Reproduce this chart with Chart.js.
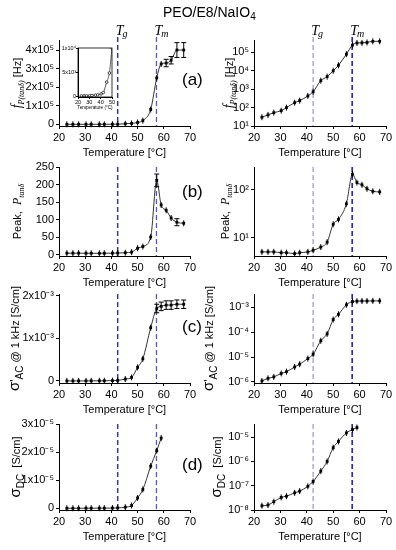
<!DOCTYPE html>
<html>
<head>
<meta charset="utf-8">
<script src="https://cdn.jsdelivr.net/npm/chart.js@4.4.0/dist/chart.umd.min.js"></script>
<style>
  body { margin: 0; background: #fff; font-family: 'Liberation Sans', Arial, sans-serif; }
  #page { position: relative; width: 396px; height: 550px; overflow: hidden; }
  canvas { position: absolute; left: 0; top: 0; }
  #title { position: absolute; left: 163px; top: 4px; font-size: 14px; line-height: 16px; white-space: nowrap; }
  #title sub { font-size: 10px; vertical-align: -3px; line-height: 0; }
  .tag { position: absolute; left: 182px; font-size: 17px; line-height: 20px; }
</style>
</head>
<body>
<div id="page">
  <canvas id="ca" width="396" height="550"></canvas>
  <canvas id="caR" width="396" height="550"></canvas>
  <canvas id="cb" width="396" height="550"></canvas>
  <canvas id="cbR" width="396" height="550"></canvas>
  <canvas id="cc" width="396" height="550"></canvas>
  <canvas id="ccR" width="396" height="550"></canvas>
  <canvas id="cd" width="396" height="550"></canvas>
  <canvas id="cdR" width="396" height="550"></canvas>
  <canvas id="cInset" width="396" height="550"></canvas>
  <div id="title">PEO/E8/NaIO<sub>4</sub></div>
  <div class="tag" style="top:70px">(a)</div>
  <div class="tag" style="top:182px">(b)</div>
  <div class="tag" style="top:317px">(c)</div>
  <div class="tag" style="top:455px">(d)</div>
</div>
<script>
// temperatures of the measurements [°C]
const temps = [23, 25.3, 27.5, 30.3, 32.3, 35.4, 37.3, 40.4, 42.4, 45.3, 47.7, 50, 52, 55, 57.3, 59, 60.9, 62.8, 65, 67.6];

// (a) peak frequency of tan delta [Hz]
const fPeak = [30, 40, 53, 68, 100, 185, 240, 430, 730, 2900, 4800, 10000, 20000, 80000, 250000, 325000, 330000, 345000, 400000, 400000];
const fPeakErr = [3, 4, 5, 6, 10, 15, 20, 30, 50, 200, 300, 800, 1500, 6000, 15000, 15000, 20000, 20000, 40000, 40000];

// (b) tan delta peak height
const tanPeak = [5, 5, 5, 4.8, 4.8, 4.6, 4.8, 5, 5.4, 6.3, 8, 19, 24, 51, 212, 142, 127, 105, 93, 90];
const tanPeakErr = [0.4, 0.4, 0.4, 0.4, 0.4, 0.4, 0.4, 0.4, 0.5, 0.5, 0.6, 1.5, 2, 5, 18, 8, 6, 5, 10, 6];

// (c) AC conductivity at 1 kHz [S/cm]
const sigmaAC = [1.1e-6, 1.4e-6, 1.6e-6, 2.2e-6, 2.6e-6, 4.0e-6, 5.2e-6, 8.7e-6, 1.3e-5, 4.5e-5, 8.5e-5, 3.2e-4, 5.2e-4, 1.25e-3, 1.7e-3, 1.75e-3, 1.78e-3, 1.78e-3, 1.8e-3, 1.8e-3];
const sigmaACErr = [1e-7, 1e-7, 1.5e-7, 2e-7, 2e-7, 3e-7, 4e-7, 7e-7, 1e-6, 4e-6, 7e-6, 3e-5, 4e-5, 6e-5, 1e-4, 1e-4, 1e-4, 1e-4, 1e-4, 1e-4];

// (d) DC conductivity [S/cm] (measured up to 59 °C)
const sigmaDC = [1.5e-8, 1.6e-8, 2.2e-8, 3.3e-8, 3.7e-8, 5.1e-8, 6e-8, 9.5e-8, 1.5e-7, 4e-7, 1e-6, 3.7e-6, 6.7e-6, 1.5e-5, 2.05e-5, 2.5e-5];
const sigmaDCErr = [1e-9, 1e-9, 2e-9, 3e-9, 3e-9, 4e-9, 5e-9, 8e-9, 1e-8, 3e-8, 8e-8, 3e-7, 5e-7, 6e-7, 8e-7, 1e-6];

// transition temperatures
const tg = 42.4;
const tm = 57.2;

// tick values
const xTicks = [20, 30, 40, 50, 60, 70];
const fLinTicks = [0, 1e5, 2e5, 3e5, 4e5];
const fLogTicks = [1e1, 1e2, 1e3, 1e4, 1e5];
const pLinTicks = [0, 50, 100, 150, 200, 250];
const pLogTicks = [1e1, 1e2];
const acLinTicks = [0, 1e-3, 2e-3];
const acLogTicks = [1e-6, 1e-5, 1e-4, 1e-3];
const dcLinTicks = [0, 1e-5, 2e-5, 3e-5];
const dcLogTicks = [1e-8, 1e-7, 1e-6, 1e-5];
const insetXTicks = [20, 30, 40, 50];
const insetYTicks = [0, 5e3, 1e4];

const SANS = "'Liberation Sans', Arial, sans-serif";
const SERIF = "'Liberation Serif', 'Times New Roman', serif";
const W = 396, H = 550;

const SUP = { '0': '⁰', '1': '¹', '2': '²', '3': '³', '4': '⁴', '5': '⁵', '6': '⁶', '7': '⁷', '8': '⁸', '9': '⁹', '-': '⁻' };
function sup(n) { return String(n).split('').map(c => SUP[c]).join(''); }
function sciLabel(v) {
    if (v === 0) return '0';
    const e = Math.floor(Math.log10(v) + 1e-9);
    const m = Math.round(v / Math.pow(10, e));
    return m + 'x10' + sup(e);
}
function decLabel(v) { return '10' + sup(Math.round(Math.log10(v))); }
function plainLabel(v) { return String(v); }

// extra drawing per canvas: dashed transition lines, error bars, axis titles
const deco = {};

function drawRich(ctx, parts, bx, cy) {
    ctx.save();
    ctx.translate(bx, cy);
    ctx.rotate(-Math.PI / 2);
    let total = 0;
    parts.forEach(p => { ctx.font = p[1]; total += ctx.measureText(p[0]).width; });
    let x0 = -total / 2;
    ctx.fillStyle = '#000';
    ctx.textAlign = 'left';
    ctx.textBaseline = 'alphabetic';
    parts.forEach(p => {
        ctx.font = p[1];
        ctx.fillText(p[0], x0, p[2] || 0);
        x0 += ctx.measureText(p[0]).width;
    });
    ctx.restore();
}

const decoPlugin = {
    id: 'deco',
    beforeDatasetsDraw(chart) {
        const d = deco[chart.canvas.id];
        if (!d || !d.lines) return;
        const ctx = chart.ctx, a = chart.chartArea, x = chart.scales.x;
        d.lines.forEach(ln => {
            const px = x.getPixelForValue(ln.value);
            ctx.save();
            ctx.strokeStyle = ln.color;
            ctx.lineWidth = ln.width;
            ctx.setLineDash([5, 3]);
            ctx.beginPath();
            ctx.moveTo(px, a.top - (d.labels ? 3 : 0));
            ctx.lineTo(px, a.bottom);
            ctx.stroke();
            ctx.restore();
            if (d.labels) {
                ctx.save();
                ctx.fillStyle = '#000';
                ctx.textBaseline = 'alphabetic';
                ctx.font = 'italic 14px ' + SERIF;
                ctx.fillText('T', px - 2, 35);
                const tw = ctx.measureText('T').width;
                ctx.font = 'italic 10px ' + SERIF;
                ctx.fillText(ln.sub, px - 2 + tw - 1, 37);
                ctx.restore();
            }
        });
    },
    afterDatasetsDraw(chart) {
        const ctx = chart.ctx, y = chart.scales.y;
        chart.data.datasets.forEach((ds, di) => {
            if (!ds.errors) return;
            const meta = chart.getDatasetMeta(di);
            ctx.save();
            ctx.strokeStyle = '#000';
            ctx.lineWidth = 1;
            meta.data.forEach((pt, i) => {
                const v = ds.data[i].y, e = ds.errors[i];
                const lo = Math.max(v - e, v * 0.05);
                let top = y.getPixelForValue(v + e), bot = y.getPixelForValue(lo);
                const big = bot - top > 6;
                top = Math.max(Math.min(top, pt.y - 3), chart.chartArea.top - 4);
                bot = Math.max(bot, pt.y + 3);
                ctx.beginPath();
                ctx.moveTo(pt.x, top);
                ctx.lineTo(pt.x, bot);
                if (big) {
                    ctx.moveTo(pt.x - 2.5, top); ctx.lineTo(pt.x + 2.5, top);
                    ctx.moveTo(pt.x - 2.5, bot); ctx.lineTo(pt.x + 2.5, bot);
                }
                ctx.stroke();
            });
            ctx.restore();
        });
    },
    afterDraw(chart) {
        const d = deco[chart.canvas.id];
        if (!d) return;
        const ctx = chart.ctx, a = chart.chartArea;
        if (d.ytitle) drawRich(ctx, d.ytitle.parts, d.ytitle.x, (a.top + a.bottom) / 2);
        ctx.save();
        ctx.fillStyle = '#000';
        ctx.textAlign = 'center';
        ctx.textBaseline = 'middle';
        ctx.font = (d.xtitleSize || 11) + 'px ' + SANS;
        ctx.fillText(d.xtitle || 'Temperature [°C]', (a.left + a.right) / 2, a.bottom + (d.xtitleGap || 26.5));
        if (d.box) {
            ctx.strokeStyle = '#000';
            ctx.lineWidth = 0.8;
            ctx.strokeRect(a.left, a.top, a.right - a.left, a.bottom - a.top);
        }
        ctx.restore();
    }
};
Chart.register(decoPlugin);

const cols = { L: [59, 190], R: [254, 386] };
const rows = { a: [40, 126], b: [167, 256], c: [294, 383], d: [424, 510] };
const lineStyles = {
    L: [{ value: tg, color: '#3434a2', width: 1.5, sub: 'g' }, { value: tm, color: '#5656bc', width: 1.3, sub: 'm' }],
    R: [{ value: tg, color: '#9494d8', width: 1.2, sub: 'g' }, { value: tm, color: '#2a2ab2', width: 1.7, sub: 'm' }]
};

function panel(id, col, row, s) {
    const [l, r] = s.area ? [s.area[0], s.area[1]] : cols[col];
    const [t, b] = s.area ? [s.area[2], s.area[3]] : rows[row];
    const yW = s.yW || 40, xH = s.xH || 30;
    const fs = s.tickSize || 11;
    const pts = s.values.map((v, i) => ({ x: temps[i], y: v }));
    deco[id] = {
        lines: s.noLines ? null : lineStyles[col],
        labels: row === 'a' && !s.noLines,
        ytitle: s.ytitle,
        xtitle: s.xtitle, xtitleSize: s.xtitleSize, xtitleGap: s.xtitleGap,
        box: s.box
    };
    new Chart(document.getElementById(id), {
        type: 'line',
        data: {
            datasets: [{
                data: pts,
                errors: s.errors,
                borderColor: '#333',
                borderWidth: s.lineWidth || 1,
                cubicInterpolationMode: 'monotone',
                pointStyle: s.pointStyle || 'rect',
                pointRadius: s.pointRadius || 2,
                pointBackgroundColor: s.pointFill || '#000',
                pointBorderColor: '#000',
                pointBorderWidth: s.pointBorder || 0
            }]
        },
        options: {
            responsive: false,
            animation: false,
            devicePixelRatio: 1,
            events: [],
            layout: { padding: { left: l - yW, top: t, right: W - r, bottom: H - b - xH } },
            plugins: { legend: { display: false }, tooltip: { enabled: false } },
            scales: {
                x: {
                    type: 'linear',
                    min: s.xMin || 20,
                    max: s.xMax || 70,
                    afterFit: sc => { sc.height = xH; },
                    afterBuildTicks: sc => { sc.ticks = (s.xTicks || xTicks).map(v => ({ value: v })); },
                    ticks: { autoSkip: false, maxRotation: 0, color: '#000', font: { family: SANS, size: fs }, padding: s.tickPad === undefined ? 2 : s.tickPad },
                    grid: { drawOnChartArea: false, tickLength: s.tickLen || 3, color: '#000' },
                    border: { color: '#000', width: 1 }
                },
                y: {
                    type: s.log ? 'logarithmic' : 'linear',
                    min: s.min,
                    max: s.max,
                    afterFit: sc => { sc.width = yW; },
                    afterBuildTicks: sc => { sc.ticks = s.ticks.map(v => ({ value: v })); },
                    ticks: { autoSkip: false, color: '#000', font: { family: SANS, size: fs }, padding: s.tickPad === undefined ? 2 : s.tickPad, callback: v => s.fmt(v) },
                    grid: { drawOnChartArea: false, tickLength: s.tickLen || 3, color: '#000' },
                    border: { color: '#000', width: 1 }
                }
            }
        }
    });
}

// row (a)
panel('ca', 'L', 'a', {
    values: fPeak, errors: fPeakErr, min: -9000, max: 454000, ticks: fLinTicks, fmt: sciLabel,
    ytitle: { x: 20.5, parts: [['f', 'italic 14px ' + SERIF], ['P(tanδ)', 'italic 8px ' + SERIF, 3], [' [Hz]', '11px ' + SANS]] }
});
panel('caR', 'R', 'a', {
    values: fPeak, errors: fPeakErr, log: true, min: 10, max: 4.7e5, ticks: fLogTicks, fmt: decLabel,
    ytitle: { x: 233, parts: [['f', 'italic 14px ' + SERIF], ['P(tanδ)', 'italic 8px ' + SERIF, 3], [' [Hz]', '11px ' + SANS]] }
});

// row (b)
panel('cb', 'L', 'b', {
    values: tanPeak, errors: tanPeakErr, min: -3, max: 250, ticks: pLinTicks, fmt: plainLabel,
    ytitle: { x: 21, parts: [['Peak,  ', '11px ' + SANS], ['P', 'italic 12px ' + SERIF], ['tanδ', 'italic 8px ' + SERIF, 3]] }
});
panel('cbR', 'R', 'b', {
    values: tanPeak, errors: tanPeakErr, log: true, min: 4.1, max: 300, ticks: pLogTicks, fmt: decLabel,
    ytitle: { x: 229, parts: [['Peak,  ', '11px ' + SANS], ['P', 'italic 12px ' + SERIF], ['tanδ', 'italic 8px ' + SERIF, 3]] }
});

// row (c)
panel('cc', 'L', 'c', {
    values: sigmaAC, errors: sigmaACErr, min: -4.7e-5, max: 2.04e-3, ticks: acLinTicks, fmt: sciLabel,
    ytitle: { x: 19, parts: [['σ', '15px ' + SANS], ["'", '12px ' + SANS], ['AC', '10px ' + SANS, 4], [' @ 1 kHz [S/cm]', '11px ' + SANS]] }
});
panel('ccR', 'R', 'c', {
    values: sigmaAC, errors: sigmaACErr, log: true, min: 9.1e-7, max: 3.4e-3, ticks: acLogTicks, fmt: decLabel,
    ytitle: { x: 213, parts: [['σ', '15px ' + SANS], ["'", '12px ' + SANS], ['AC', '10px ' + SANS, 4], [' @ 1 kHz [S/cm]', '11px ' + SANS]] }
});

// row (d)
panel('cd', 'L', 'd', {
    values: sigmaDC, errors: sigmaDCErr, min: -6e-7, max: 3e-5, ticks: dcLinTicks, fmt: sciLabel,
    ytitle: { x: 20, parts: [['σ', '15px ' + SANS], ['DC', '10px ' + SANS, 4], ['  [S/cm]', '11px ' + SANS]] }
});
panel('cdR', 'R', 'd', {
    values: sigmaDC, errors: sigmaDCErr, log: true, min: 1e-8, max: 3.5e-5, ticks: dcLogTicks, fmt: decLabel,
    ytitle: { x: 221, parts: [['σ', '15px ' + SANS], ['DC', '10px ' + SANS, 4], ['  [S/cm]', '11px ' + SANS]] }
});

// inset of (a): low temperature part
panel('cInset', 'L', 'a', {
    area: [78, 112, 48, 97], yW: 20, xH: 12, tickSize: 5.5, tickLen: 2, tickPad: 0,
    values: fPeak.slice(0, 12), min: -200, max: 10000, xMin: 20, xMax: 50,
    xTicks: insetXTicks, ticks: insetYTicks, fmt: sciLabel,
    noLines: true, box: true, pointStyle: 'circle', pointRadius: 1.3, pointFill: '#fff', pointBorder: 0.7, lineWidth: 0.8,
    xtitle: 'Temperature (°C)', xtitleSize: 4.6, xtitleGap: 11
});
</script>
</body>
</html>
